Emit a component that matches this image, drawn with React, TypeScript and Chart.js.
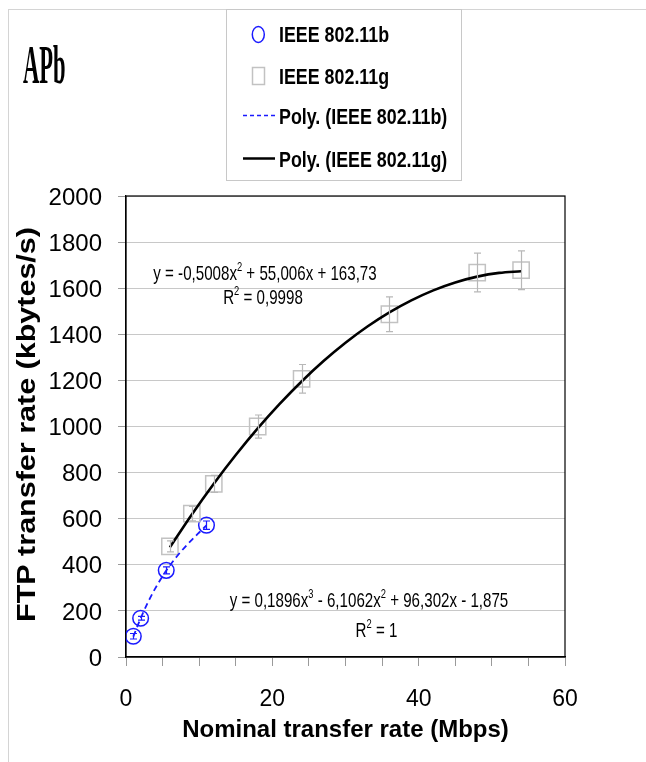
import React, { useEffect, useRef } from "react";
import { Chart, registerables } from "chart.js";

Chart.register(...registerables);

// ---------- data ----------
const bRates = [1, 2, 5.5, 11];
const bValues = [90, 168, 376, 572];
const bErrors = [12, 8, 15, 18];

const gRates = [6, 9, 12, 18, 24, 36, 48, 54];
const gValues = [480, 622, 751, 1000, 1207, 1487, 1668, 1678];
const gErrors = [24, 31, 37, 50, 62, 75, 84, 84];

// polynomial trend lines (as drawn)
const polyBRates = [1, 2, 3, 4, 5, 6, 7, 8, 9, 10, 11];
const polyBValues = [88.5, 167.8, 237.2, 297.8, 350.7, 397.1, 438.1, 474.8, 508.5, 540.1, 571.0];
const polyGRates = [6, 9, 12, 15, 18, 21, 24, 27, 30, 33, 36, 39, 42, 45, 48, 51, 54];
const polyGValues = [475.7, 618.2, 751.7, 876.1, 991.6, 1098.0, 1195.4, 1283.8, 1363.2, 1433.6, 1494.9, 1547.2, 1590.6, 1624.9, 1650.2, 1666.5, 1673.7];

const xTickLabels = ["0", "20", "40", "60"];
const legendLabels = ["IEEE 802.11b", "IEEE 802.11g", "Poly. (IEEE 802.11b)", "Poly. (IEEE 802.11g)"];

const chartTitle = "APb";
const xTitle = "Nominal transfer rate (Mbps)";
const yTitle = "FTP transfer rate (kbytes/s)";

type Part = [string, boolean];
const eqG1: Part[] = [["y = -0,5008x", false], ["2", true], [" + 55,006x + 163,73", false]];
const eqG2: Part[] = [["R", false], ["2", true], [" = 0,9998", false]];
const eqB1: Part[] = [["y = 0,1896x", false], ["3", true], [" - 6,1062x", false], ["2", true], [" + 96,302x - 1,875", false]];
const eqB2: Part[] = [["R", false], ["2", true], [" = 1", false]];

const SANS = "'Liberation Sans', Arial, sans-serif";
const SERIF = "'Liberation Serif', 'Times New Roman', serif";
const BLUE = "#1a1aff";
const GRAY = "#c2c2c2";

function drawRich(ctx: CanvasRenderingContext2D, parts: Part[], cx: number, baseline: number, size: number, sx: number) {
  const normal = `${size}px ${SANS}`;
  const sup = `${Math.round(size * 0.62)}px ${SANS}`;
  let w = 0;
  for (const [t, s] of parts) {
    ctx.font = s ? sup : normal;
    w += ctx.measureText(t).width;
  }
  ctx.save();
  ctx.translate(cx - (w * sx) / 2, baseline);
  ctx.scale(sx, 1);
  ctx.textAlign = "left";
  ctx.textBaseline = "alphabetic";
  ctx.fillStyle = "#000";
  let x = 0;
  for (const [t, s] of parts) {
    ctx.font = s ? sup : normal;
    ctx.fillText(t, x, s ? -size * 0.42 : 0);
    x += ctx.measureText(t).width;
  }
  ctx.restore();
}

const decorPlugin = {
  id: "decor",
  beforeDatasetsDraw(chart: any) {
    const { ctx, chartArea: a } = chart;
    ctx.save();
    ctx.strokeStyle = "#000";
    ctx.lineWidth = 1.2;
    ctx.strokeRect(a.left, a.top, a.right - a.left, a.bottom - a.top);
    ctx.restore();
  },
  afterDatasetsDraw(chart: any) {
    const { ctx } = chart;
    const xs = chart.scales.x;
    const ys = chart.scales.y;
    const sets = [
      { xsv: bRates, ysv: bValues, err: bErrors, color: BLUE },
      { xsv: gRates, ysv: gValues, err: gErrors, color: "#b8b8b8" },
    ];
    ctx.save();
    ctx.lineWidth = 1.2;
    for (const s of sets) {
      ctx.strokeStyle = s.color;
      s.xsv.forEach((xv, i) => {
        const px = Math.round(xs.getPixelForValue(xv)) + 0.5;
        const top = ys.getPixelForValue(s.ysv[i] + s.err[i]);
        const bot = ys.getPixelForValue(s.ysv[i] - s.err[i]);
        ctx.beginPath();
        ctx.moveTo(px, top);
        ctx.lineTo(px, bot);
        ctx.moveTo(px - 3.5, top);
        ctx.lineTo(px + 3.5, top);
        ctx.moveTo(px - 3.5, bot);
        ctx.lineTo(px + 3.5, bot);
        ctx.stroke();
      });
    }
    ctx.restore();
  },
  afterDraw(chart: any) {
    const { ctx } = chart;
    ctx.save();
    // outer frame
    ctx.strokeStyle = "#d4d4d4";
    ctx.lineWidth = 1;
    ctx.strokeRect(8.5, 9.5, 700, 800);

    // title
    ctx.save();
    ctx.translate(23, 83);
    ctx.scale(0.41, 1);
    ctx.font = `bold 55px ${SERIF}`;
    ctx.fillStyle = "#000";
    ctx.textAlign = "left";
    ctx.textBaseline = "alphabetic";
    ctx.fillText(chartTitle, 0, 0);
    ctx.restore();

    // y title
    ctx.save();
    ctx.translate(27.5, 424.5);
    ctx.rotate(-Math.PI / 2);
    ctx.scale(1, 0.85);
    ctx.font = `bold 30.5px ${SANS}`;
    ctx.fillStyle = "#000";
    ctx.textAlign = "center";
    ctx.textBaseline = "middle";
    ctx.fillText(yTitle, 0, 0);
    ctx.restore();

    // legend box
    ctx.strokeStyle = "#c8c8c8";
    ctx.strokeRect(226.5, 9.5, 235, 171);
    const baselines = [42.3, 84, 123.5, 166.7];
    // symbols
    ctx.lineWidth = 1.5;
    ctx.strokeStyle = BLUE;
    ctx.beginPath();
    ctx.ellipse(258.3, 34.5, 6, 8, 0, 0, Math.PI * 2);
    ctx.stroke();
    ctx.strokeStyle = GRAY;
    ctx.strokeRect(252.5, 67.5, 12, 17);
    ctx.strokeStyle = BLUE;
    ctx.lineWidth = 1.6;
    ctx.setLineDash([4, 3]);
    ctx.beginPath();
    ctx.moveTo(243, 115.5);
    ctx.lineTo(275, 115.5);
    ctx.stroke();
    ctx.setLineDash([]);
    ctx.strokeStyle = "#000";
    ctx.lineWidth = 2.5;
    ctx.beginPath();
    ctx.moveTo(243, 158.5);
    ctx.lineTo(275, 158.5);
    ctx.stroke();
    // legend texts
    legendLabels.forEach((t, i) => {
      ctx.save();
      ctx.translate(279, baselines[i]);
      ctx.scale(0.83, 1);
      ctx.font = `bold 21.5px ${SANS}`;
      ctx.fillStyle = "#000";
      ctx.textAlign = "left";
      ctx.textBaseline = "alphabetic";
      ctx.fillText(t, 0, 0);
      ctx.restore();
    });

    // equations
    drawRich(ctx, eqG1, 265, 279.5, 21, 0.72);
    drawRich(ctx, eqG2, 263, 303.5, 21, 0.72);
    drawRich(ctx, eqB1, 369, 607.3, 21, 0.72);
    drawRich(ctx, eqB2, 376.5, 636.7, 21, 0.72);
    ctx.restore();
  },
};

export default function App() {
  const ref = useRef<HTMLCanvasElement | null>(null);
  useEffect(() => {
    if (!ref.current) return;
    const pts = (xs: number[], ys: number[]) => xs.map((x, i) => ({ x, y: ys[i] }));
    const chart = new Chart(ref.current, {
      type: "scatter",
      data: {
        datasets: [
          {
            label: legendLabels[3],
            data: pts(polyGRates, polyGValues),
            showLine: true,
            borderColor: "#000",
            borderWidth: 2.6,
            pointRadius: 0,
            cubicInterpolationMode: "monotone",
            order: 0,
          } as any,
          {
            label: legendLabels[2],
            data: pts(polyBRates, polyBValues),
            showLine: true,
            borderColor: BLUE,
            borderWidth: 1.8,
            borderDash: [6, 4],
            pointRadius: 0,
            cubicInterpolationMode: "monotone",
            order: 0,
          } as any,
          {
            label: legendLabels[1],
            data: pts(gRates, gValues),
            pointStyle: "rect",
            pointRadius: 11.5,
            borderColor: GRAY,
            borderWidth: 1.5,
            backgroundColor: "rgba(255,255,255,0)",
            order: 1,
          } as any,
          {
            label: legendLabels[0],
            data: pts(bRates, bValues),
            pointStyle: "circle",
            pointRadius: 7.8,
            borderColor: BLUE,
            borderWidth: 1.5,
            backgroundColor: "rgba(255,255,255,0)",
            order: 1,
          } as any,
        ],
      },
      options: {
        animation: false,
        responsive: false,
        maintainAspectRatio: false,
        events: [],
        layout: { padding: { left: 0, top: 196, right: 81, bottom: 0 } },
        plugins: { legend: { display: false }, tooltip: { enabled: false }, title: { display: false } },
        scales: {
          x: {
            type: "linear",
            min: 0,
            max: 60,
            ticks: {
              stepSize: 5,
              autoSkip: false,
              maxRotation: 0,
              padding: 20,
              color: "#000",
              font: { family: SANS, size: 23 },
              callback: (v: any) => (Number(v) % 20 === 0 ? xTickLabels[Number(v) / 20] : ""),
            },
            grid: { drawOnChartArea: false, drawTicks: true, tickLength: 9, tickColor: "#9a9a9a", lineWidth: 1 },
            border: { color: "#000", width: 1.2 },
            title: {
              display: true,
              text: xTitle,
              color: "#000",
              font: { family: SANS, size: 24, weight: "bold" },
              padding: { top: 0, bottom: 17 },
            },
            afterFit: (s: any) => {
              s.height = 105;
            },
          },
          y: {
            type: "linear",
            min: 0,
            max: 2000,
            ticks: {
              stepSize: 200,
              padding: 16,
              labelOffset: 2,
              color: "#000",
              font: { family: SANS, size: 24 },
              callback: (v: any) => String(v),
            },
            grid: { color: "#c8c8c8", lineWidth: 1, tickLength: 8, tickColor: "#9a9a9a" },
            border: { color: "#000", width: 1.2 },
            afterFit: (s: any) => {
              s.width = 126;
            },
          },
        },
      } as any,
      plugins: [decorPlugin],
    });
    return () => chart.destroy();
  }, []);
  return (
    <div style={{ position: "absolute", left: 0, top: 0, width: 646, height: 762, background: "#fff" }}>
      <canvas ref={ref} width={646} height={762} style={{ display: "block" }} />
    </div>
  );
}
